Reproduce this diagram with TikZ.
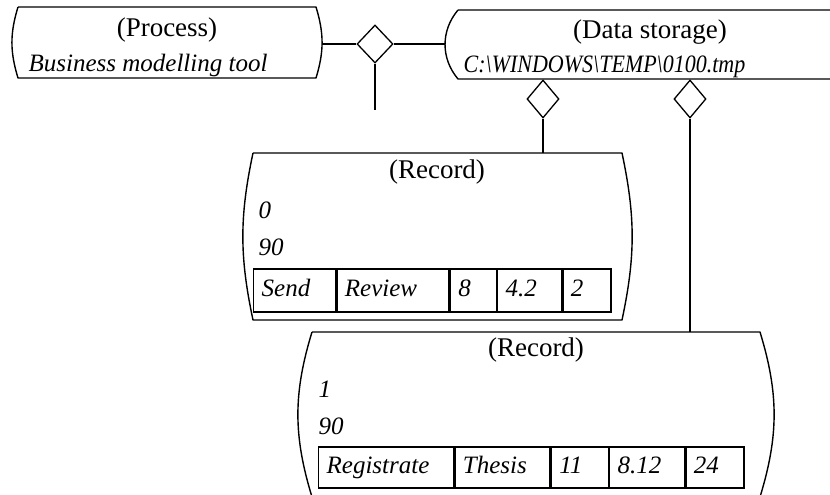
\documentclass[tikz,border=0pt]{standalone}
\usepackage{fontspec}
\setmainfont{Liberation Serif}
\usetikzlibrary{shapes.geometric,positioning}

% outline of a box whose left and right sides are bowed outwards
\newcommand{\bowbox}[2]{%
  \draw[frame] (#1.north west) -- (#1.north east) to[bend left=#2] (#1.south east)
    -- (#1.south west) to[bend left=#2] (#1.north west);}

\begin{document}
\begin{tikzpicture}[x=1pt, y=-1pt, line width=1.3pt]
    \tikzset{frame/.style={line width=1.4pt, line join=round},
             holder/.style={inner sep=0pt, outer sep=0pt},
             txt/.style={font=\fontsize{27}{30}\selectfont, inner sep=0pt},
             it/.style={font=\fontsize{25}{30}\selectfont\itshape, inner sep=0pt},
             agg/.style={draw, diamond, minimum width=#1, minimum height=38pt, inner sep=0pt},
             cell/.style={draw, anchor=west, align=left, text width=#1, inner xsep=8pt,
                          text height=17pt, text depth=5pt,
                          font=\fontsize{25}{30}\selectfont\itshape}}
    \useasboundingbox (0,0) rectangle (830,495);

    % process and data storage
    \node[holder, minimum width=298pt, minimum height=71pt] (proc) at (167,42.5) {};
    \node[holder, minimum width=402pt, minimum height=69pt] (store) at (659,44.5) {};
    \bowbox{proc}{17}
    \bowbox{store}{40}
    \node[txt] at (167,30) {(Process)};
    \node[it, anchor=base west] at (28,71) {Business modelling tool};
    \node[txt] at (650,32) {(Data storage)};
    \node[it, anchor=base west] at (463,73)
        {\addfontfeature{FakeStretch=0.88}C:\textbackslash WINDOWS\textbackslash TEMP\textbackslash 0100.tmp};

    \node[agg=36pt] (agg1) at (375,44) {};
    \node[agg=32pt] (agg2) at (543,99) {};
    \node[agg=32pt] (agg3) at (690,99) {};
    \coordinate (procfoot) at (375,110);

    % records
    \node[holder, minimum width=369pt, minimum height=167pt] (rec1) at (437.5,236.5) {};
    \node[holder, minimum width=448pt, minimum height=165pt] (rec2) at (536,414.5) {};
    \bowbox{rec1}{12}
    \bowbox{rec2}{17}

    \node[txt] at (437,172) {(Record)};
    \node[it, anchor=west] at (258,210) {0};
    \node[it, anchor=west] at (258,247) {90};
    \node[cell=66pt, minimum height=43pt] (r1c1) at (253,290.5) {Send};
    \node[cell=96pt, minimum height=43pt, right=0pt of r1c1] (r1c2) {Review};
    \node[cell=30pt, minimum height=43pt, right=0pt of r1c2] (r1c3) {8};
    \node[cell=48pt, minimum height=43pt, right=0pt of r1c3] (r1c4) {4.2};
    \node[cell=32pt, minimum height=43pt, right=0pt of r1c4] (r1c5) {2};

    \node[txt] at (536,350) {(Record)};
    \node[it, anchor=west] at (318,389) {1};
    \node[it, anchor=west] at (318,426) {90};
    \node[cell=119pt, minimum height=41pt] (r2c1) at (318,467.5) {Registrate};
    \node[cell=79pt, minimum height=41pt, right=0pt of r2c1] (r2c2) {Thesis};
    \node[cell=41pt, minimum height=41pt, right=0pt of r2c2] (r2c3) {11};
    \node[cell=59pt, minimum height=41pt, right=0pt of r2c3] (r2c4) {8.12};
    \node[cell=42pt, minimum height=41pt, right=0pt of r2c4] (r2c5) {24};

    % aggregation links
    \draw (agg1.west) -- ([xshift=6pt]agg1.west -| proc.east);
    \draw (agg1.east) -- ([xshift=-13pt]agg1.east -| store.west);
    \draw (agg1.south) -- (procfoot);
    \draw (agg2.south) -- (agg2.south |- rec1.north);
    \draw (agg3.south) -- (agg3.south |- rec2.north);
\end{tikzpicture}
\end{document}
